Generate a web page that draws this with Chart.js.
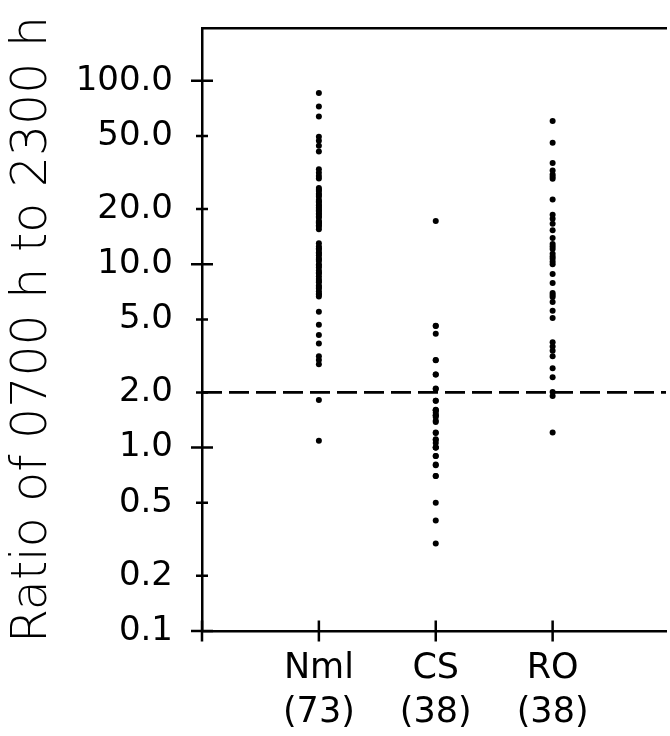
<!DOCTYPE html>
<html><head><meta charset="utf-8">
<script src="https://cdn.jsdelivr.net/npm/chart.js@4"></script>
<style>html,body{margin:0;padding:0;background:#fff;overflow:hidden}</style>
</head><body>
<canvas id="c" width="670" height="736"></canvas>
<script>
// ---- data ----
const categories = [['Nml', '(73)'], ['CS', '(38)'], ['RO', '(38)']];
const categoryPositions = [1, 2, 3];
const nmlValues = [
  85.7, 72.4, 63.9, 49.5, 47.1, 44.2, 41.1,
  32.9, 31.5, 30.3, 29.3,
  26.0, 25.5, 25.1, 24.2, 23.8, 23.3, 22.4, 22.0, 21.6, 21.0, 20.8, 20.4, 20.0,
  19.6, 19.3, 18.9, 18.6, 18.2, 17.9, 17.2, 17.0, 16.8, 16.6, 16.3, 16.0, 15.5,
  13.0, 12.5, 12.2, 12.0, 11.6, 11.4, 11.2, 10.8, 10.6, 10.4, 10.0, 9.8, 9.6,
  9.25, 9.0, 8.9, 8.6, 8.3, 8.1, 7.96, 7.66, 7.5, 7.38, 7.11, 6.9, 6.84, 6.67,
  5.5, 4.67, 4.11, 3.7, 3.15, 3.0, 2.85, 1.82, 1.09
];
const csValues = [
  17.2, 4.61, 4.6, 4.18, 2.99, 3.0, 2.5, 2.5, 2.09, 2.1, 1.80, 1.8,
  1.61, 1.6, 1.6, 1.55, 1.5, 1.5, 1.47, 1.4, 1.38, 1.21, 1.2, 1.11, 1.1,
  1.06, 1.0, 1.0, 1.0, 0.90, 0.9, 0.81, 0.8, 0.70, 0.7, 0.50, 0.40, 0.30
];
const roValues = [
  60.3, 45.9, 35.6, 32.4, 30.8, 30.0, 29.2, 22.5, 18.6, 17.7, 16.6, 15.3, 13.9,
  12.9, 12.5, 12.1, 11.4, 11.0, 10.7, 10.3, 10.0, 8.85, 7.9, 6.97, 6.8, 6.63, 6.22,
  5.58, 5.09, 3.75, 3.56, 3.37, 3.15, 2.71, 2.42, 2.01, 1.91, 1.21
];
const seriesValues = [nmlValues, csValues, roValues];
const yTickValues = [100, 50, 20, 10, 5, 2, 1, 0.5, 0.2, 0.1];
const yTickLabels = ['100.0', '50.0', '20.0', '10.0', '5.0', '2.0', '1.0', '0.5', '0.2', '0.1'];
const yMajorTicks = [100, 10, 1, 0.1];
const xTickMarks = [0, 1, 2, 3];
const referenceRatio = 2;
const yTitle = 'Ratio of 0700 h to 2300 h';
const yMin = 0.1, yMax = 194;
const xMin = 0, xMax = 3.97;

// ---- chart ----
const FONT = 'DejaVu Sans';
const datasets = seriesValues.map((vals, i) => ({
  type: 'scatter',
  data: vals.map(v => ({x: categoryPositions[i], y: v})),
  pointRadius: 3,
  pointBackgroundColor: '#000',
  pointBorderWidth: 0,
  xAxisID: 'x', yAxisID: 'y'
}));
datasets.push({
  type: 'line',
  data: [{x: xMin, y: referenceRatio}, {x: xMax, y: referenceRatio}],
  borderColor: '#000',
  borderWidth: 2.7,
  borderDash: [20, 7],
  pointRadius: 0,
  xAxisID: 'x', yAxisID: 'y'
});

const tickMarks = {
  id: 'tickMarks',
  afterDraw(chart) {
    const ctx = chart.ctx, xs = chart.scales.x, ys = chart.scales.y;
    const ax = xs.getPixelForValue(xMin), ay = ys.getPixelForValue(yMin);
    ctx.save();
    ctx.strokeStyle = '#000';
    ctx.lineWidth = 2.5;
    ctx.beginPath();
    yTickValues.forEach(v => {
      const y = ys.getPixelForValue(v);
      const len = yMajorTicks.includes(v) ? 11 : 6;
      ctx.moveTo(ax - len, y); ctx.lineTo(ax + len, y);
    });
    xTickMarks.forEach(v => {
      const x = xs.getPixelForValue(v);
      ctx.moveTo(x, ay - 10.5); ctx.lineTo(x, ay + 10.5);
    });
    ctx.stroke();
    ctx.restore();
  }
};

const noPad = s => { s.paddingTop = 0; s.paddingBottom = 0; s.paddingLeft = 0; s.paddingRight = 0; };

new Chart(document.getElementById('c'), {
  data: {datasets},
  plugins: [tickMarks],
  options: {
    responsive: false,
    animation: false,
    layout: {padding: {left: 0, top: 0, bottom: 0, right: -4}},
    plugins: {legend: {display: false}, tooltip: {enabled: false}},
    scales: {
      x: {
        type: 'linear', position: 'bottom', min: xMin, max: xMax,
        grid: {display: false, drawTicks: false},
        border: {display: true, color: '#000', width: 2.5},
        afterBuildTicks: s => { s.ticks = categoryPositions.map(v => ({value: v})); },
        ticks: {
          color: '#000', font: {family: FONT, size: 35, lineHeight: 1.25},
          padding: 16, maxRotation: 0, autoSkip: false,
          callback: v => categories[categoryPositions.indexOf(v)]
        },
        afterFit: s => { s.height = 105; noPad(s); }
      },
      x2: {
        type: 'linear', position: 'top', min: xMin, max: xMax,
        grid: {display: false, drawTicks: false},
        border: {display: true, color: '#000', width: 2.5},
        ticks: {display: false},
        afterFit: s => { s.height = 28; noPad(s); }
      },
      y: {
        type: 'logarithmic', position: 'left', min: yMin, max: yMax,
        grid: {display: false, drawTicks: false},
        border: {display: true, color: '#000', width: 2.5},
        afterBuildTicks: s => { s.ticks = yTickValues.map(v => ({value: v})); },
        ticks: {
          color: '#000', font: {family: FONT, size: 34}, padding: 29, autoSkip: false,
          callback: v => yTickLabels[yTickValues.indexOf(v)]
        },
        title: {
          display: true, text: yTitle, color: '#000',
          font: {family: FONT, size: 49, lineHeight: 1.2, weight: '300'}, padding: {top: 4, bottom: 0}
        },
        afterFit: s => { s.width = 202; noPad(s); }
      }
    }
  }
});
</script>
</body></html>
